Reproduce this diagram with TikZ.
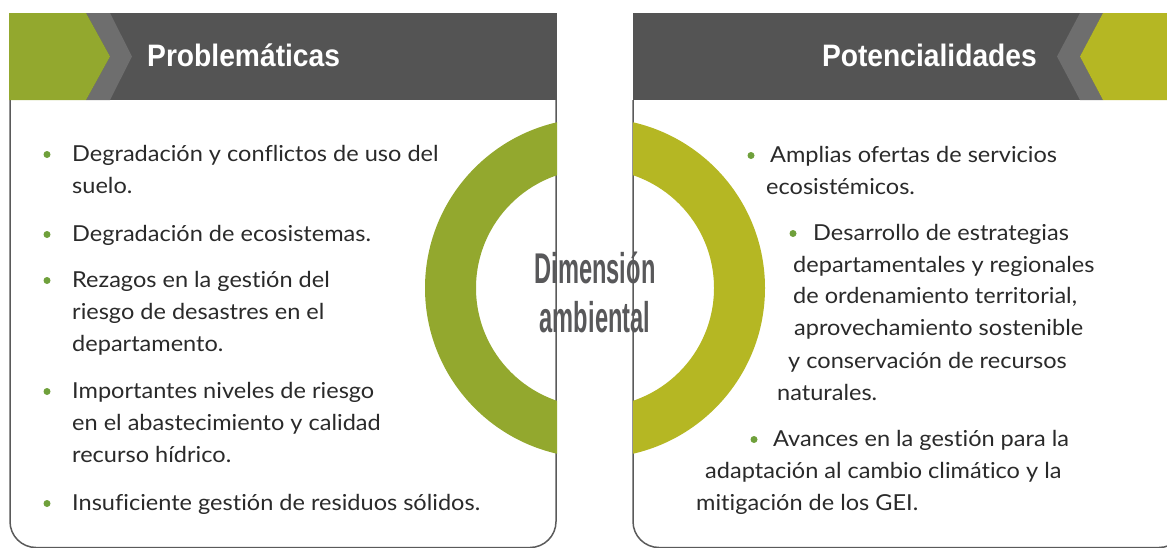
\documentclass[tikz,border=0pt]{standalone}
\usepackage{fontspec}
\setmainfont{Lato}[Ligatures=NoCommon,FakeStretch=1.07]
\newfontfamily\titlefont[FakeStretch=0.91]{Liberation Sans}
\newfontfamily\ringfont[FakeStretch=0.55]{Liberation Sans}
\usetikzlibrary{calc,positioning}

\definecolor{HeadGray}{HTML}{545454}
\definecolor{ChevGray}{HTML}{6E6E6E}
\definecolor{ProbGreen}{HTML}{93A82E}
\definecolor{PotYellow}{HTML}{B5B723}
\definecolor{DotGreen}{HTML}{6FA03B}
\definecolor{FrameGray}{HTML}{5A5A5A}
\definecolor{RingText}{HTML}{58585A}
\definecolor{BodyText}{HTML}{2A2A2A}

\begin{document}
\begin{tikzpicture}[x=1pt,y=-1pt]

  % Parameters
  \def\hdtop{13}
  \def\hdbot{100}
  \def\hdmid{56.5}
  \def\boxbot{547.5}

  % Styles
  \tikzstyle{txt}=[anchor=base west,inner sep=0pt,text=BodyText,font=\fontsize{22}{26}\selectfont]
  \tikzstyle{dot}=[circle,fill=DotGreen,inner sep=0pt,minimum size=7pt]
  \tikzstyle{title}=[inner sep=0pt,text=white,font=\titlefont\bfseries\fontsize{31}{31}\selectfont]
  \tikzstyle{ringtxt}=[anchor=base,inner sep=0pt,text=RingText,font=\ringfont\bfseries\fontsize{43}{43}\selectfont]
  \tikzstyle{frame}=[draw=FrameGray,line width=1.5pt,rounded corners=26pt]

  % \bline{<id>}{<x>}{<y>}{<text>}, \bdot{<id>}{<gap>}
  \newcommand{\bline}[4]{\node[txt] (#1) at (#2,#3) {#4};}
  \newcommand{\bdot}[2]{\node[dot] (dot-#1) at ($(#1.base west)+(-#2,-6.5)$) {};}

  \useasboundingbox (0,0) rectangle (1167,547);

  % ===========================================================================

  % Draw frames
  \draw[frame] (10,\hdbot) -- (10,\boxbot) -- (556,\boxbot) -- (556,\hdbot);
  \draw[frame] (633,\hdbot) -- (633,\boxbot) -- (1185,\boxbot) -- (1185,\hdbot);

  % Draw headers
  \fill[HeadGray] (9,\hdtop) rectangle (557,\hdbot);
  \fill[ChevGray] (86,\hdtop) -- (110,\hdtop) -- (132,\hdmid) -- (110,\hdbot) -- (86,\hdbot) -- (110,\hdmid) -- cycle;
  \fill[ProbGreen] (9,\hdtop) -- (86,\hdtop) -- (110,\hdmid) -- (86,\hdbot) -- (9,\hdbot) -- cycle;

  \fill[HeadGray] (633,\hdtop) rectangle (1185,\hdbot);
  \fill[ChevGray] (1080,\hdtop) -- (1103,\hdtop) -- (1080,\hdmid) -- (1103,\hdbot) -- (1080,\hdbot) -- (1057,\hdmid) -- cycle;
  \fill[PotYellow] (1103,\hdtop) -- (1185,\hdtop) -- (1185,\hdbot) -- (1103,\hdbot) -- (1080,\hdmid) -- cycle;

  \node[title,anchor=base west] (prob) at (147,66) {Problemáticas};
  \node[title,anchor=base east] (pot) at (1037,66) {Potencialidades};

  % Draw rings
  \begin{scope}
    \clip (0,0) rectangle (557,547);
    \fill[ProbGreen,even odd rule] (595,288) circle (170pt) (595,288) circle (119pt);
  \end{scope}
  \begin{scope}
    \clip (633,0) rectangle (1167,547);
    \fill[PotYellow,even odd rule] (595,288) circle (170pt) (595,288) circle (119pt);
  \end{scope}

  \node[ringtxt] (dim) at (595,283) {Dimensión};
  \node[ringtxt] (amb) at (595,332) {ambiental};

  % Draw problems
  \bline{p1a}{72}{161}{Degradación y conflictos de uso del}
  \bline{p1b}{72}{193}{suelo.}
  \bline{p2a}{72}{241}{Degradación de ecosistemas.}
  \bline{p3a}{72}{287}{Rezagos en la gestión del}
  \bline{p3b}{72}{319}{riesgo de desastres en el}
  \bline{p3c}{72}{351}{departamento.}
  \bline{p4a}{72}{398}{Importantes niveles de riesgo}
  \bline{p4b}{72}{430}{en el abastecimiento y calidad}
  \bline{p4c}{72}{462}{recurso hídrico.}
  \bline{p5a}{72}{510}{Insuficiente gestión de residuos sólidos.}
  \bdot{p1a}{25} \bdot{p2a}{25} \bdot{p3a}{25} \bdot{p4a}{25} \bdot{p5a}{25}

  % Draw potentials
  \bline{o1a}{770}{162}{Amplias ofertas de servicios}
  \bline{o1b}{766}{194}{ecosistémicos.}
  \bline{o2a}{813}{240}{Desarrollo de estrategias}
  \bline{o2b}{793}{272}{departamentales y regionales}
  \bline{o2c}{793}{303}{de ordenamiento territorial,}
  \bline{o2d}{794}{335}{aprovechamiento sostenible}
  \bline{o2e}{788}{368}{y conservación de recursos}
  \bline{o2f}{777}{400}{naturales.}
  \bline{o3a}{773}{446}{Avances en la gestión para la}
  \bline{o3b}{705}{478}{adaptación al cambio climático y la}
  \bline{o3c}{696}{510}{mitigación de los GEI.}
  \bdot{o1a}{19} \bdot{o2a}{20} \bdot{o3a}{19}

\end{tikzpicture}
\end{document}
